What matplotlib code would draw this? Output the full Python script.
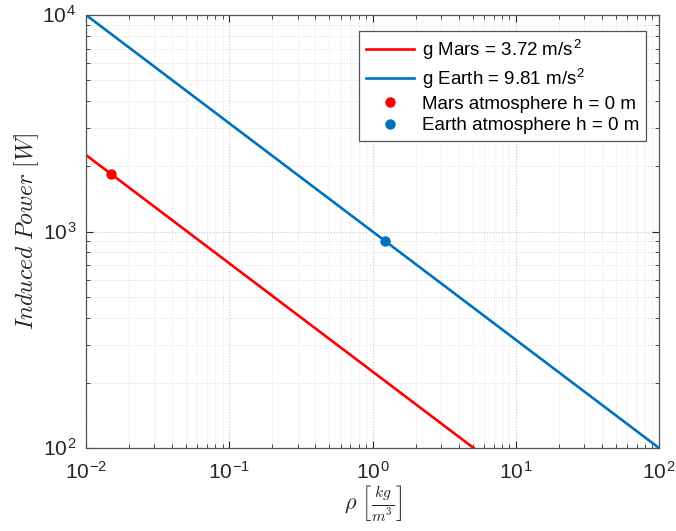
import matplotlib
matplotlib.use("Agg")
import matplotlib.pyplot as plt
from matplotlib.ticker import FuncFormatter
import numpy as np

# Data
rho_mars = [0.01, 0.1, 1.0, 5.08]
p_mars = [2255, 713, 225.5, 100]
rho_earth = [0.01, 0.1, 1.0, 10.0, 100.0]
p_earth = [10000, 3162, 1000, 316.2, 100]
rho_mars_pt = [0.015]
p_mars_pt = [1841]
rho_earth_pt = [1.225]
p_earth_pt = [903]

labels = [r"g Mars = 3.72 m/s$^{\mathregular{2}}$", r"g Earth = 9.81 m/s$^{\mathregular{2}}$",
          "Mars atmosphere h = 0 m", "Earth atmosphere h = 0 m"]

plt.rcParams['font.family'] = ['Liberation Sans', 'DejaVu Sans']
plt.rcParams['mathtext.fontset'] = 'cm'

red = '#ff0000'
blue = '#0072bd'

fig = plt.figure(figsize=(6.76, 5.31), dpi=100)
ax = fig.add_axes([86/676, 1-448/531, (659-86)/676, (448-15)/531])

ax.plot(rho_mars, p_mars, color=red, lw=1.9, label=labels[0])
ax.plot(rho_earth, p_earth, color=blue, lw=1.9, label=labels[1])
ax.plot(rho_mars_pt, p_mars_pt, 'o', color=red, ms=6.5, label=labels[2])
ax.plot(rho_earth_pt, p_earth_pt, 'o', color=blue, ms=6.5, label=labels[3])

ax.set_xscale('log')
ax.set_yscale('log')
ax.set_xlim(1e-2, 1e2)
ax.set_ylim(1e2, 1e4)

def fmt(v, pos):
    e = int(round(np.log10(v)))
    return r"10$^{\mathregular{%d}}$" % e

ax.xaxis.set_major_formatter(FuncFormatter(fmt))
ax.yaxis.set_major_formatter(FuncFormatter(fmt))

ax.grid(True, which='major', linestyle=':', color='#c8c8c8', lw=0.8)
ax.grid(True, which='minor', linestyle=':', color='#dcdcdc', lw=0.7)
ax.tick_params(which='both', direction='in', top=True, right=True,
               colors='#262626', labelsize=15, labelcolor='#262626')
ax.tick_params(which='major', length=5)
ax.tick_params(which='minor', length=3)
ax.tick_params(axis='x', which='major', pad=10)
ax.tick_params(axis='y', which='major', pad=7)
for s in ax.spines.values():
    s.set_color('#555555')
    s.set_linewidth(0.9)

ax.set_xlabel(r'$\rho\ \left[\frac{kg}{m^3}\right]$', fontsize=16, color='#262626', labelpad=0)
ax.set_ylabel(r'$Induced\ Power\ [W]$', fontsize=17, color='#262626', labelpad=1)

leg = ax.legend(loc='upper right', fontsize=13.5, fancybox=False, framealpha=1,
                edgecolor='#555555', handlelength=2.6, borderpad=0.35,
                labelspacing=0.25, handletextpad=0.4, borderaxespad=0,
                bbox_to_anchor=(0.977, 0.963))
leg.get_frame().set_linewidth(0.9)

fig.savefig('out.png', dpi=100)
